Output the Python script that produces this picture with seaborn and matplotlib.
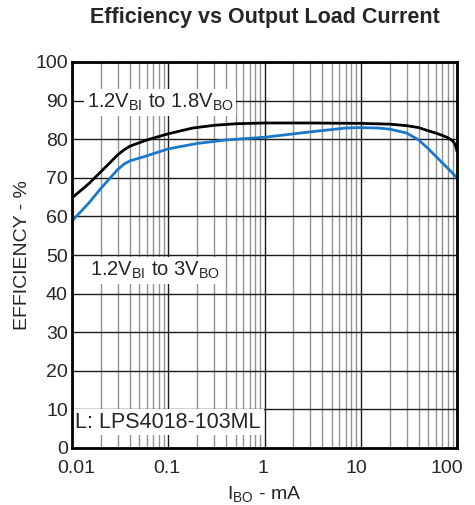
import matplotlib
matplotlib.use("Agg")
import matplotlib.pyplot as plt
import numpy as np
import pandas as pd
import seaborn as sns
from matplotlib.ticker import LogLocator, NullFormatter

# load current (mA) and efficiency (%)
black_current = [0.01, 0.015, 0.02, 0.025, 0.03, 0.035, 0.04, 0.06, 0.1, 0.18, 0.3, 0.5, 1, 3,
                 10, 20, 30, 40, 50, 60, 70, 80, 90, 95, 98, 100]
black_eff = [64.8, 68.5, 71.6, 74.0, 76.0, 77.3, 78.2, 79.8, 81.4, 82.9, 83.6, 84.0, 84.2, 84.2,
             84.1, 83.9, 83.5, 83.0, 82.2, 81.6, 81.0, 80.4, 79.6, 78.8, 77.8, 76.8]
blue_current = [0.01, 0.015, 0.02, 0.025, 0.03, 0.035, 0.04, 0.055, 0.1, 0.2, 0.4, 1, 3, 7,
                10, 15, 20, 30, 40, 50, 60, 80, 100]
blue_eff = [58.8, 63.5, 67.3, 70.0, 72.2, 73.6, 74.4, 75.4, 77.5, 78.9, 79.8, 80.5, 81.9, 82.9,
            83.0, 82.9, 82.6, 81.6, 79.8, 77.6, 75.6, 72.5, 70.0]
x_ticks = [0.01, 0.1, 1, 10, 100]
x_tick_labels = ["0.01", "0.1", "1", "10", "100"]
y_ticks = list(range(0, 101, 10))

# small horizontal nudges (pixels) of the x tick labels, as in the source chart
label_nudge = [4.5, -1.5, -2, -4, -10]

black_df = pd.DataFrame({"current": black_current, "eff": black_eff})
blue_df = pd.DataFrame({"current": blue_current, "eff": blue_eff})

sns.set_style("white")
plt.rcParams["font.family"] = ["Liberation Sans", "DejaVu Sans"]

fig = plt.figure(figsize=(4.75, 5.05), dpi=100)
ax = fig.add_axes([72 / 475, 1 - 448 / 505, 385 / 475, 386 / 505])

sns.lineplot(data=black_df, x="current", y="eff", color="black", lw=2, ax=ax, zorder=4)
sns.lineplot(data=blue_df, x="current", y="eff", color="#1a78c8", lw=2, ax=ax, zorder=4)

ax.set_xscale("log")
ax.set_xlim(0.01, 100)
ax.set_ylim(0, 100)
ax.xaxis.set_minor_locator(LogLocator(base=10, subs=np.arange(2, 10)))
ax.xaxis.set_minor_formatter(NullFormatter())
ax.set_xticks(x_ticks)
ax.set_xticklabels([])
ax.set_yticks(y_ticks)
ax.tick_params(axis="both", which="both", length=0, labelsize=14)
ax.tick_params(axis="y", pad=3)

for tick, lab, dx in zip(x_ticks, x_tick_labels, label_nudge):
    ax.annotate(lab, xy=(tick, 0), xycoords=("data", "axes fraction"),
                xytext=(dx, -25), textcoords="offset pixels",
                ha="center", va="baseline", fontsize=14)

ax.set_xlabel(r"I$_{\mathregular{BO}}$ - mA", fontsize=14)
ax.xaxis.set_label_coords(0.5, -0.095)
ax.set_ylabel("EFFICIENCY - %", fontsize=14, labelpad=3)
ax.set_title("Efficiency vs Output Load Current", fontsize=15.5, fontweight="bold", pad=28)

ax.grid(which="major", axis="both", color="#1a1a1a", lw=1)
ax.grid(which="minor", axis="x", color="#929292", lw=1)
for s in ax.spines.values():
    s.set_color("black")
    s.set_linewidth(2)
    s.set_zorder(5)

box = dict(facecolor="white", edgecolor="none", pad=2)
ax.text(0.0143, 89.5, r"1.2V$_{\mathregular{BI}}$ to 1.8V$_{\mathregular{BO}}$", fontsize=14.5,
        va="center", bbox=box, zorder=3)
ax.text(0.0154, 46, r"1.2V$_{\mathregular{BI}}$ to 3V$_{\mathregular{BO}}$", fontsize=14.5,
        va="center", bbox=box, zorder=3)
ax.text(0.0108, 6.7, "L: LPS4018-103ML", fontsize=15.5, va="center", bbox=box, zorder=3)

fig.savefig("out.png", dpi=100)
